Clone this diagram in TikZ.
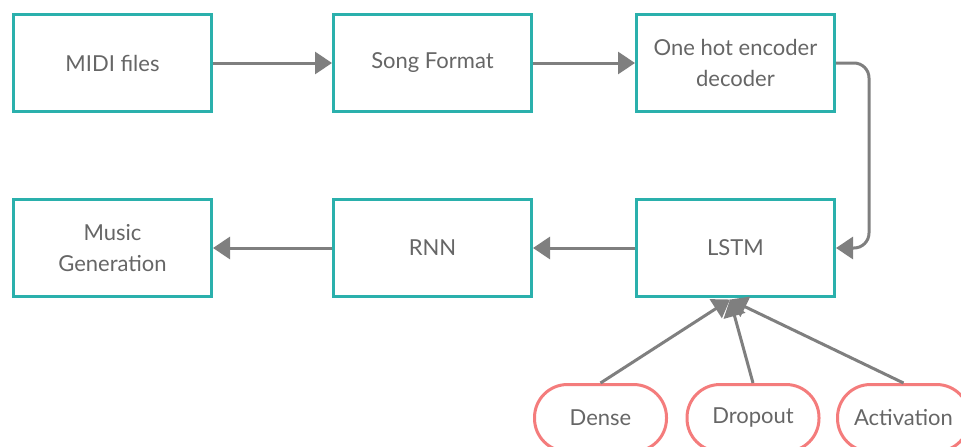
\documentclass[tikz,border=0pt]{standalone}
\usepackage{fontspec}
\setmainfont{Lato}
\usetikzlibrary{arrows.meta}
\definecolor{boxteal}{HTML}{2AB0AC}
\definecolor{pillred}{HTML}{F47C7C}
\definecolor{linegray}{HTML}{7F7F7F}
\definecolor{textgray}{HTML}{666666}
\tikzset{
  stage/.style={draw=boxteal, line width=3pt, fill=white, minimum width=198pt,
    minimum height=97pt, align=center, text=textgray,
    font=\fontsize{22}{31}\selectfont},
  pill/.style={draw=pillred, line width=3pt, fill=white, minimum width=132pt,
    minimum height=67pt, rounded corners=33pt, text=textgray,
    font=\fontsize{22}{31}\selectfont},
  flow/.style={draw=linegray, line width=3pt,
    -{Triangle[length=17pt,width=22pt]}},
}
\begin{document}
\begin{tikzpicture}[x=1pt,y=-1pt]
  \useasboundingbox (0,0) rectangle (961,447);
  % processing stages
  \node[stage] (midi)   at (112.5,63)  {MIDI files};
  \node[stage] (song)   at (432.5,63)  {Song Format};
  \node[stage] (onehot) at (735.5,63)  {One hot encoder\\decoder};
  \node[stage] (music)  at (112.5,248) {Music\\Generation};
  \node[stage] (rnn)    at (432.5,248) {RNN};
  \node[stage] (lstm)   at (735.5,248) {LSTM};
  % layer types feeding the LSTM
  \node[pill] (dense)      at (600.5,418) {Dense};
  \node[pill] (dropout)    at (753,418)   {Dropout};
  \node[pill] (activation) at (903.5,418) {Activation};
  \coordinate (hub) at (730,299.5);
  % connectors
  \draw[flow] (midi.east) -- (song.west);
  \draw[flow] (song.east) -- (onehot.west);
  \draw[flow, rounded corners=15pt] (onehot.east) -- ([xshift=33pt]onehot.east) |- (lstm.east);
  \draw[flow] (lstm.west) -- (rnn.east);
  \draw[flow] (rnn.west) -- (music.east);
  \draw[flow] (dense.north) -- (hub);
  \draw[flow] (dropout.north) -- (hub);
  \draw[flow] (activation.north) -- (hub);
\end{tikzpicture}
\end{document}
